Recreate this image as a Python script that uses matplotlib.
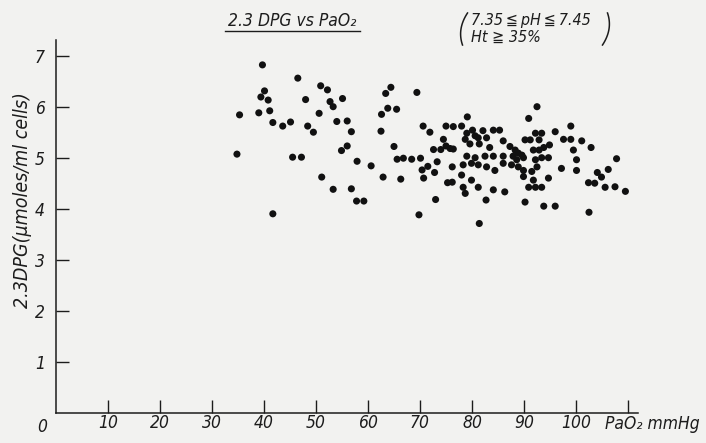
import numpy as np
import matplotlib.pyplot as plt
from matplotlib import font_manager

# PaO2 (mmHg) and 2,3-DPG (umoles/ml cells)
pao2 = [39.7, 46.5, 50.9, 52.2, 40.1, 39.4, 40.8, 48.0, 52.7, 53.3, 35.3, 39.0, 41.1,
        50.6, 41.7, 43.6, 45.1, 48.4, 49.5, 54.0, 34.8, 45.5, 47.2, 51.1, 53.3, 41.7,
        55.1, 56.0, 56.8, 56.0, 54.9, 57.9, 60.6, 56.8, 57.8, 59.2, 64.4, 63.4, 69.4,
        63.8, 65.5, 62.6, 62.5, 65.0, 65.6, 66.8, 68.4, 70.1, 62.9, 66.3, 69.8, 70.6,
        71.9, 75.0, 76.4, 74.5, 72.6, 74.0, 75.0, 75.8, 76.4, 73.3, 71.5, 70.4, 70.7,
        72.8, 76.2, 75.3, 76.2, 73.0,
        92.5, 90.9, 99.0, 79.1, 78.0, 80.1, 82.1, 84.1, 85.3, 79.0, 80.6, 81.2, 78.7,
        82.8, 79.6, 81.4, 83.4, 86.0, 90.2, 91.2, 92.2, 93.4, 96.0, 92.9, 94.9, 91.8,
        93.8, 87.3, 88.3, 88.9, 89.6, 87.9, 88.6, 89.9, 86.0, 84.1, 82.5, 80.6, 79.0,
        78.3, 79.9, 81.2, 82.8, 84.4, 86.0, 87.6, 88.9, 89.9, 91.5, 92.5, 93.4, 94.7,
        92.2, 92.9, 97.6, 99.0, 99.5, 100.1, 100.1, 97.2, 89.9, 91.8, 90.9, 92.2, 93.4,
        94.7, 78.0, 79.9, 78.3, 78.7, 81.2, 84.1, 86.3, 82.7, 90.2, 93.8, 96.0, 81.4,
        101.1, 102.9, 107.8, 106.2, 104.1, 104.9, 102.4, 103.6, 105.6, 107.5, 109.5, 102.5]
dpg = [6.82, 6.56, 6.41, 6.33, 6.31, 6.19, 6.13, 6.14, 6.10, 6.00, 5.84, 5.88, 5.92,
       5.87, 5.69, 5.62, 5.70, 5.62, 5.50, 5.71, 5.07, 5.01, 5.01, 4.62, 4.38, 3.90,
       6.16, 5.72, 5.51, 5.23, 5.14, 4.93, 4.84, 4.39, 4.15, 4.15, 6.38, 6.26, 6.28,
       5.97, 5.95, 5.85, 5.52, 5.22, 4.97, 4.99, 4.97, 4.99, 4.62, 4.58, 3.88, 5.62,
       5.50, 5.62, 5.61, 5.36, 5.16, 5.16, 5.23, 5.18, 5.17, 4.92, 4.83, 4.76, 4.60,
       4.71, 4.82, 4.51, 4.52, 4.18,
       6.00, 5.77, 5.62, 5.80, 5.62, 5.54, 5.53, 5.54, 5.54, 5.48, 5.43, 5.39, 5.36,
       5.39, 5.27, 5.27, 5.20, 5.33, 5.35, 5.35, 5.48, 5.48, 5.51, 5.35, 5.25, 5.15,
       5.20, 5.22, 5.15, 5.09, 5.05, 5.03, 4.96, 5.00, 5.03, 5.03, 5.03, 5.00, 5.03,
       4.86, 4.89, 4.86, 4.82, 4.75, 4.89, 4.86, 4.82, 4.75, 4.73, 4.82, 5.00, 5.00,
       4.96, 5.15, 5.36, 5.36, 5.15, 4.96, 4.75, 4.79, 4.63, 4.56, 4.42, 4.42, 4.42,
       4.60, 4.66, 4.56, 4.42, 4.30, 4.42, 4.37, 4.33, 4.17, 4.13, 4.05, 4.05, 3.71,
       5.33, 5.20, 4.98, 4.77, 4.71, 4.62, 4.51, 4.50, 4.42, 4.43, 4.34, 3.93]

x_ticks = [10, 20, 30, 40, 50, 60, 70, 80, 90, 100, 110]
x_ticklabels = ['10', '20', '30', '40', '50', '60', '70', '80', '90', '100', '']
y_ticks = [1, 2, 3, 4, 5, 6, 7]

W, H = 706, 443
ink = '#1c1c1c'
bg = '#f2f2f0'

# narrow lettering if a condensed DejaVu is around, plain DejaVu otherwise
has_cond = any(f.name == 'DejaVu Sans' and f.stretch == 'condensed'
               for f in font_manager.fontManager.ttflist)
plt.rcParams['font.family'] = ['DejaVu Sans']
plt.rcParams['font.style'] = 'italic'
if has_cond:
    plt.rcParams['font.stretch'] = 'condensed'
fs = 12.5


def px(x, y):
    # pixel position -> figure fraction
    return x / W, 1 - y / H


fig = plt.figure(figsize=(W / 100, H / 100), dpi=100, facecolor=bg)
ax = fig.add_axes([0, 0, 1, 1])
ax.set_facecolor(bg)

# pixel mapping of the drawn axes: x0 at 56px, 5.2 px per mmHg; y0 at 412.7px, 51 px per unit
ax.set_xlim(-56 / 5.2, (W - 56) / 5.2)
ax.set_ylim((412.7 - H) / 51, 412.7 / 51)

ax.scatter(pao2, dpg, s=26, color='#111111', edgecolors='none', zorder=3)

for side in ['top', 'right']:
    ax.spines[side].set_visible(False)
ax.spines['left'].set_position(('data', 0))
ax.spines['bottom'].set_position(('data', 0))
ax.spines['left'].set_bounds(0, 7.3)
ax.spines['bottom'].set_bounds(0, 112)
for side in ['left', 'bottom']:
    ax.spines[side].set_linewidth(1.1)
    ax.spines[side].set_color(ink)

ax.set_xticks(x_ticks)
ax.set_xticklabels(x_ticklabels)
ax.set_yticks(y_ticks)
ax.tick_params(direction='in', length=9.5, width=1.0, color=ink, labelcolor=ink,
               labelsize=fs)
ax.tick_params(axis='x', pad=1)
ax.tick_params(axis='y', pad=8)

fig.text(*px(42, 427), '0', ha='center', va='center', fontsize=fs, color=ink)
fig.text(*px(605, 424), 'PaO₂ mmHg', ha='left', va='center', fontsize=fs, color=ink)

fig.text(*px(23, 200), '2.3DPG(μmoles/ml cells)', rotation=90, ha='center', va='center',
         fontsize=14, color=ink)

# title with underline
fig.text(*px(292, 21), '2.3 DPG vs PaO₂', ha='center', va='center', fontsize=fs, color=ink)
fig.add_artist(plt.Line2D([225 / W, 360 / W], [1 - 31 / H, 1 - 31 / H], color=ink, lw=1.0))

# conditions in brackets
fig.text(*px(471, 20), '7.35\u2009≦\u2009pH\u2009≦\u20097.45', ha='left', va='center',
         fontsize=11.5, color=ink)
fig.text(*px(471, 37), 'Ht ≧ 35%', ha='left', va='center', fontsize=11.5, color=ink)

# thin hand-drawn brackets round the two lines
t = np.linspace(-1, 1, 40)
yb = 29 + 16 * t
xl = 465 - 2.5 * t - 4 * (1 - t ** 2)
xr = 605 - 2.5 * t + 4 * (1 - t ** 2)
fig.add_artist(plt.Line2D(xl / W, 1 - yb / H, color=ink, lw=1.1))
fig.add_artist(plt.Line2D(xr / W, 1 - yb / H, color=ink, lw=1.1))

fig.savefig('out.png', dpi=100, facecolor=bg)
